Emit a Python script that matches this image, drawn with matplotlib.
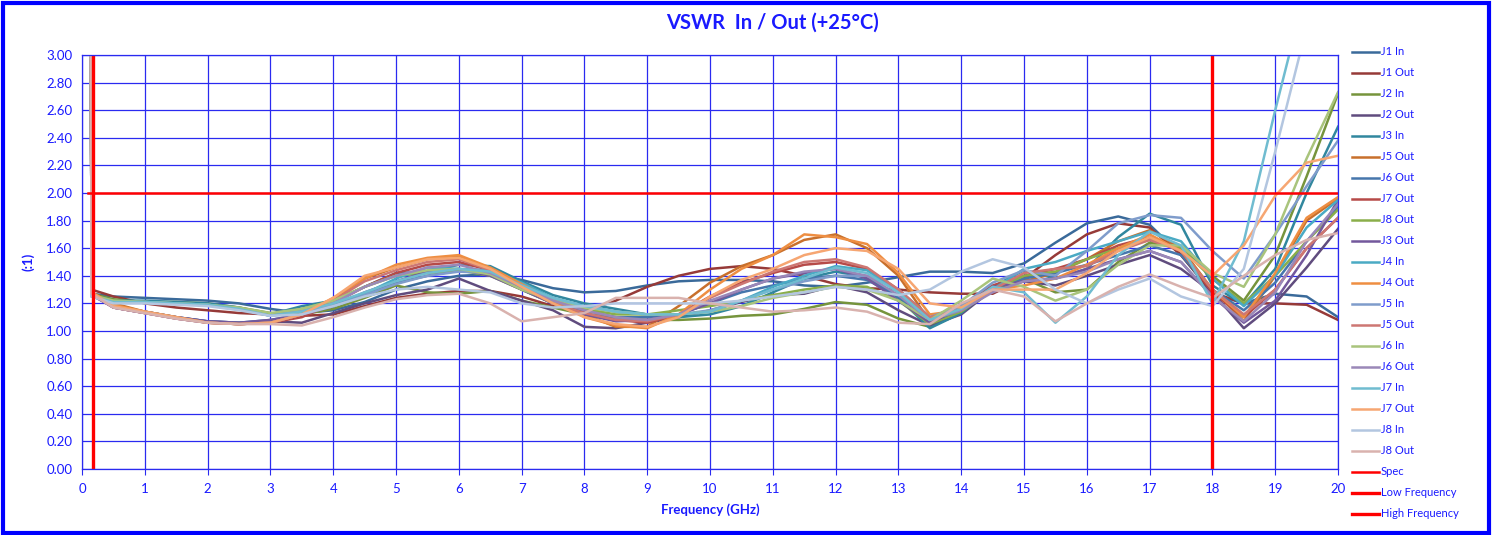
import matplotlib.pyplot as plt
import numpy as np
from matplotlib.patches import Rectangle

# frequency points (GHz): start of sweep + every 0.5 GHz
freq = [0.13, 0.15] + [0.5 * k for k in range(1, 41)]

# VSWR traces (first two points = sweep start spike)
j1_in = [6, 1.27, 1.25, 1.24, 1.23, 1.22, 1.20, 1.16, 1.13, 1.15, 1.21, 1.30,
         1.36, 1.40, 1.41, 1.37, 1.31, 1.28, 1.29, 1.33, 1.36, 1.37,
         1.37, 1.36, 1.33, 1.32, 1.35, 1.39, 1.43, 1.43, 1.42, 1.49,
         1.64, 1.78, 1.83, 1.77, 1.55, 1.27, 1.20, 1.27, 1.25, 1.10]
j1_out = [6, 1.30, 1.25, 1.20, 1.17, 1.15, 1.13, 1.12, 1.11, 1.12, 1.18, 1.24,
          1.27, 1.29, 1.29, 1.25, 1.18, 1.14, 1.22, 1.32, 1.40, 1.45,
          1.47, 1.45, 1.40, 1.34, 1.31, 1.30, 1.28, 1.27, 1.27, 1.38,
          1.55, 1.70, 1.78, 1.75, 1.55, 1.28, 1.20, 1.20, 1.19, 1.08]
j2_in = [6, 1.27, 1.23, 1.21, 1.21, 1.20, 1.17, 1.13, 1.12, 1.16, 1.24, 1.33,
         1.28, 1.27, 1.29, 1.22, 1.17, 1.12, 1.10, 1.08, 1.08, 1.09,
         1.11, 1.12, 1.16, 1.21, 1.19, 1.09, 1.03, 1.13, 1.30, 1.38,
         1.28, 1.30, 1.50, 1.64, 1.60, 1.40, 1.22, 1.55, 2.12, 2.72]
j2_out = [6, 1.26, 1.18, 1.14, 1.10, 1.07, 1.06, 1.07, 1.06, 1.13, 1.20, 1.26,
          1.30, 1.38, 1.29, 1.22, 1.15, 1.03, 1.02, 1.06, 1.10, 1.15,
          1.21, 1.26, 1.27, 1.33, 1.28, 1.15, 1.04, 1.12, 1.30, 1.36,
          1.33, 1.40, 1.48, 1.55, 1.45, 1.28, 1.02, 1.20, 1.46, 1.74]
j3_in = [6, 1.26, 1.22, 1.22, 1.21, 1.20, 1.17, 1.12, 1.18, 1.22, 1.32, 1.42,
         1.43, 1.48, 1.47, 1.36, 1.26, 1.20, 1.16, 1.12, 1.10, 1.12,
         1.18, 1.28, 1.38, 1.43, 1.39, 1.24, 1.02, 1.13, 1.32, 1.44,
         1.38, 1.45, 1.68, 1.85, 1.77, 1.33, 1.19, 1.45, 2.00, 2.48]
j5_out_a = [6, 1.28, 1.20, 1.14, 1.10, 1.06, 1.05, 1.06, 1.12, 1.22, 1.38, 1.46,
            1.52, 1.54, 1.44, 1.33, 1.22, 1.12, 1.03, 1.03, 1.18, 1.35,
            1.47, 1.55, 1.66, 1.70, 1.60, 1.40, 1.07, 1.15, 1.30, 1.36,
            1.42, 1.52, 1.65, 1.73, 1.60, 1.30, 1.07, 1.40, 1.80, 1.96]
j6_out_a = [6, 1.27, 1.18, 1.14, 1.10, 1.07, 1.06, 1.08, 1.12, 1.18, 1.26, 1.35,
            1.40, 1.44, 1.42, 1.30, 1.20, 1.15, 1.10, 1.10, 1.12, 1.20,
            1.28, 1.33, 1.38, 1.40, 1.37, 1.25, 1.08, 1.16, 1.30, 1.38,
            1.42, 1.48, 1.55, 1.62, 1.55, 1.30, 1.15, 1.35, 1.65, 1.90]
j7_out_a = [6, 1.27, 1.17, 1.13, 1.09, 1.06, 1.05, 1.06, 1.10, 1.20, 1.32, 1.42,
            1.48, 1.50, 1.44, 1.32, 1.20, 1.13, 1.08, 1.06, 1.12, 1.25,
            1.35, 1.42, 1.48, 1.50, 1.45, 1.30, 1.10, 1.18, 1.33, 1.40,
            1.45, 1.52, 1.62, 1.68, 1.58, 1.28, 1.10, 1.30, 1.60, 1.82]
j8_out_a = [6, 1.26, 1.22, 1.21, 1.20, 1.19, 1.16, 1.12, 1.16, 1.22, 1.32, 1.40,
            1.42, 1.44, 1.40, 1.30, 1.20, 1.16, 1.12, 1.12, 1.15, 1.18,
            1.22, 1.26, 1.30, 1.33, 1.32, 1.22, 1.05, 1.14, 1.30, 1.40,
            1.43, 1.52, 1.60, 1.66, 1.60, 1.38, 1.20, 1.40, 1.65, 1.88]
j3_out = [6, 1.26, 1.17, 1.13, 1.10, 1.07, 1.06, 1.08, 1.12, 1.18, 1.28, 1.36,
          1.43, 1.45, 1.40, 1.30, 1.20, 1.12, 1.07, 1.08, 1.12, 1.20,
          1.30, 1.38, 1.42, 1.45, 1.38, 1.22, 1.06, 1.16, 1.32, 1.36,
          1.38, 1.45, 1.52, 1.58, 1.50, 1.25, 1.06, 1.22, 1.55, 1.95]
j4_in = [6, 1.25, 1.21, 1.21, 1.20, 1.19, 1.16, 1.11, 1.15, 1.20, 1.27, 1.38,
         1.46, 1.45, 1.44, 1.35, 1.24, 1.18, 1.14, 1.12, 1.12, 1.14,
         1.22, 1.32, 1.40, 1.47, 1.44, 1.28, 1.08, 1.15, 1.30, 1.45,
         1.50, 1.58, 1.65, 1.72, 1.65, 1.38, 1.18, 1.40, 1.75, 1.95]
j4_out = [6, 1.28, 1.19, 1.14, 1.10, 1.06, 1.05, 1.06, 1.12, 1.24, 1.38, 1.48,
          1.53, 1.55, 1.46, 1.34, 1.22, 1.10, 1.04, 1.02, 1.12, 1.30,
          1.45, 1.55, 1.70, 1.68, 1.63, 1.42, 1.12, 1.15, 1.30, 1.33,
          1.38, 1.48, 1.60, 1.70, 1.58, 1.30, 1.10, 1.42, 1.82, 1.97]
j5_in = [6, 1.26, 1.21, 1.21, 1.20, 1.19, 1.16, 1.11, 1.15, 1.18, 1.26, 1.34,
         1.40, 1.43, 1.42, 1.33, 1.23, 1.18, 1.14, 1.12, 1.12, 1.15,
         1.22, 1.30, 1.36, 1.40, 1.40, 1.30, 1.10, 1.18, 1.35, 1.44,
         1.40, 1.58, 1.78, 1.84, 1.82, 1.58, 1.38, 1.70, 2.05, 2.38]
j5_out_b = [6, 1.27, 1.17, 1.13, 1.09, 1.06, 1.05, 1.06, 1.12, 1.22, 1.36, 1.44,
            1.50, 1.52, 1.44, 1.32, 1.20, 1.13, 1.08, 1.07, 1.12, 1.24,
            1.34, 1.43, 1.50, 1.52, 1.46, 1.30, 1.10, 1.15, 1.30, 1.42,
            1.45, 1.47, 1.58, 1.66, 1.58, 1.30, 1.12, 1.30, 1.60, 1.82]
j6_in = [6, 1.26, 1.22, 1.21, 1.20, 1.19, 1.17, 1.13, 1.16, 1.22, 1.32, 1.40,
         1.44, 1.45, 1.41, 1.30, 1.22, 1.17, 1.14, 1.12, 1.12, 1.14,
         1.18, 1.24, 1.28, 1.32, 1.30, 1.22, 1.08, 1.22, 1.38, 1.32,
         1.22, 1.30, 1.48, 1.62, 1.62, 1.42, 1.32, 1.70, 2.25, 2.73]
j6_out_b = [6, 1.27, 1.17, 1.13, 1.09, 1.06, 1.05, 1.06, 1.12, 1.20, 1.32, 1.40,
            1.46, 1.48, 1.42, 1.32, 1.22, 1.15, 1.10, 1.08, 1.12, 1.22,
            1.30, 1.38, 1.43, 1.45, 1.40, 1.26, 1.08, 1.15, 1.28, 1.36,
            1.38, 1.43, 1.52, 1.58, 1.50, 1.25, 1.07, 1.28, 1.65, 1.92]
j7_in = [6, 1.25, 1.21, 1.21, 1.20, 1.19, 1.16, 1.11, 1.14, 1.20, 1.28, 1.36,
         1.42, 1.45, 1.43, 1.33, 1.24, 1.18, 1.14, 1.12, 1.12, 1.14,
         1.22, 1.30, 1.38, 1.46, 1.42, 1.28, 1.08, 1.16, 1.32, 1.28,
         1.06, 1.25, 1.55, 1.72, 1.62, 1.20, 1.65, 2.60, 3.50, 4.40]
j7_out_b = [6, 1.28, 1.18, 1.14, 1.10, 1.06, 1.05, 1.06, 1.12, 1.24, 1.40, 1.46,
            1.52, 1.53, 1.45, 1.32, 1.20, 1.10, 1.05, 1.03, 1.10, 1.25,
            1.37, 1.45, 1.55, 1.60, 1.58, 1.45, 1.20, 1.17, 1.30, 1.30,
            1.30, 1.42, 1.58, 1.68, 1.58, 1.40, 1.62, 1.98, 2.22, 2.27]
j8_in = [6, 1.25, 1.20, 1.20, 1.19, 1.18, 1.15, 1.11, 1.12, 1.18, 1.25, 1.30,
         1.32, 1.30, 1.28, 1.20, 1.17, 1.18, 1.20, 1.20, 1.20, 1.20,
         1.22, 1.25, 1.28, 1.32, 1.30, 1.26, 1.30, 1.43, 1.52, 1.46,
         1.30, 1.20, 1.30, 1.38, 1.25, 1.18, 1.45, 2.30, 3.20, 4.10]
j8_out_b = [6, 1.27, 1.17, 1.13, 1.09, 1.06, 1.05, 1.05, 1.04, 1.10, 1.17, 1.23,
            1.26, 1.27, 1.20, 1.07, 1.10, 1.13, 1.24, 1.24, 1.24, 1.20,
            1.17, 1.14, 1.15, 1.17, 1.14, 1.06, 1.05, 1.20, 1.30, 1.25,
            1.07, 1.20, 1.32, 1.41, 1.32, 1.24, 1.40, 1.55, 1.66, 1.71]

series = [
    ("J1 In", j1_in, "#3A6A9A"), ("J1 Out", j1_out, "#963A38"),
    ("J2 In", j2_in, "#76943C"), ("J2 Out", j2_out, "#604C7E"),
    ("J3 In", j3_in, "#31879E"), ("J5 Out", j5_out_a, "#C8702C"),
    ("J6 Out", j6_out_a, "#4676AC"), ("J7 Out", j7_out_a, "#B64A48"),
    ("J8 Out", j8_out_a, "#8AAE4A"), ("J3 Out", j3_out, "#73589C"),
    ("J4 In", j4_in, "#4AAAC4"), ("J4 Out", j4_out, "#EE8E42"),
    ("J5 In", j5_in, "#7F9CCB"), ("J5 Out", j5_out_b, "#CD7773"),
    ("J6 In", j6_in, "#A9C47C"), ("J6 Out", j6_out_b, "#9A88B8"),
    ("J7 In", j7_in, "#70BCD0"), ("J7 Out", j7_out_b, "#F6A672"),
    ("J8 In", j8_in, "#B3C6E0"), ("J8 Out", j8_out_b, "#D9B2AE"),
]

# limits
spec_x = [0.1, 20]
spec_y = [2.0, 2.0]
low_x = [0.18, 0.18]
high_x = [18, 18]
band_y = [0, 3]

plt.rcParams['font.family'] = ['Lato', 'DejaVu Sans']
blue = "#1a1aff"

fig = plt.figure(figsize=(14.92, 5.35), dpi=100)
ax = fig.add_axes([0.055, 0.1234, 0.8418, 0.7738])

for name, vals, col in series:
    ax.plot(freq, vals, color=col, lw=1.8, label=name)

ax.plot(spec_x, spec_y, color="red", lw=1.8, label="Spec")
ax.plot(low_x, band_y, color="red", lw=2.4, label="Low Frequency")
ax.plot(high_x, band_y, color="red", lw=2.4, label="High Frequency")

ax.set_xlim(0, 20)
ax.set_ylim(0, 3)
ax.set_xticks(np.arange(0, 21, 1))
ax.set_yticks(np.arange(0, 3.01, 0.2))
ax.set_yticklabels([f"{v:.2f}" for v in np.arange(0, 3.01, 0.2)])
ax.grid(True, color="#2a2af0", lw=0.9)
ax.set_axisbelow(True)
for s in ax.spines.values():
    s.set_color("#2a2af0")
    s.set_linewidth(0.9)
ax.tick_params(colors=blue, labelsize=9.5, length=0, pad=7)
ax.tick_params(axis="x", length=4, color="#2a2af0", pad=6)

ax.set_xlabel("Frequency (GHz)", color=blue, fontsize=9.5, fontweight="bold", labelpad=6)
ax.set_ylabel("(:1)", color=blue, fontsize=9.5, fontweight="bold", labelpad=8)
fig.text(0.518, 0.958, "VSWR  In / Out (+25°C)", color=blue, fontsize=14.5,
         fontweight="bold", ha="center", va="center")

leg = ax.legend(loc="upper left", bbox_to_anchor=(0.903, 0.9215),
                bbox_transform=fig.transFigure, frameon=False, fontsize=8,
                labelspacing=0.9, handlelength=2.5, handletextpad=0.1,
                borderaxespad=0)
for t in leg.get_texts():
    t.set_color(blue)

fig.patches.append(Rectangle((0.002, 0.004), 0.996, 0.99, transform=fig.transFigure,
                             fill=False, edgecolor="#0000ff", lw=3))

plt.savefig("out.png", dpi=100)
